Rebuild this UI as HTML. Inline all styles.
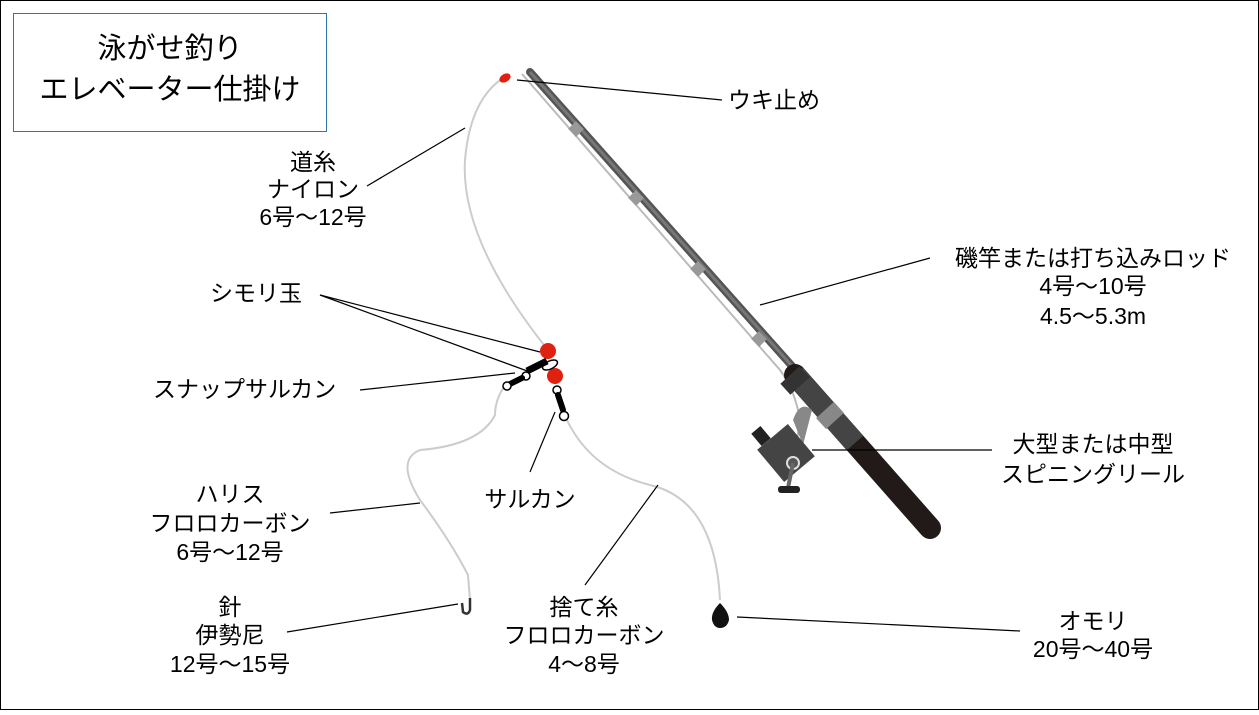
<!DOCTYPE html>
<html><head><meta charset="utf-8"><style>
body{margin:0;background:#fff;}
svg text{font-family:"Liberation Sans","Noto Sans CJK JP",sans-serif;font-size:23px;fill:#000;}
</style></head><body>
<svg width="1259" height="710" viewBox="0 0 1259 710" xmlns="http://www.w3.org/2000/svg">
<rect x="0.5" y="0.5" width="1258" height="709" fill="#fff" stroke="#000"/>
<rect x="13.5" y="13.5" width="313" height="118" fill="#fff" stroke="#2e75b6"/>
<text x="170" y="58" text-anchor="middle" style="font-size:29px">泳がせ釣り</text>
<text x="170" y="99" text-anchor="middle" style="font-size:29px">エレベーター仕掛け</text>
<path d="M522 74 L780 370 Q795 390 800 420 L795 455" stroke="#bbb" stroke-width="2" fill="none"/>
<path d="M503 78 Q470 100 465 160 Q460 240 548 350" stroke="#ccc" stroke-width="2" fill="none"/>
<path d="M505 385 Q495 400 495 415 Q480 445 420 450 Q395 460 420 500 Q450 540 468 575 L470 600" stroke="#ccc" stroke-width="2" fill="none"/>
<path d="M566 418 Q590 470 650 485 Q715 500 720 600" stroke="#ccc" stroke-width="2" fill="none"/>
<line x1="530" y1="72" x2="800" y2="375" stroke="#555" stroke-width="8" stroke-linecap="round"/>
<line x1="530" y1="72" x2="800" y2="375" stroke="#777" stroke-width="3"/>
<g stroke="#999" stroke-width="11">
<line x1="572" y1="125" x2="580" y2="133"/><line x1="632" y1="194" x2="640" y2="202"/><line x1="694" y1="265" x2="702" y2="273"/><line x1="755" y1="335" x2="763" y2="343"/>
</g>
<line x1="795" y1="375" x2="930" y2="528" stroke="#221a18" stroke-width="22" stroke-linecap="round"/>
<line x1="795" y1="375" x2="855" y2="443" stroke="#444" stroke-width="22"/>
<line x1="790" y1="375" x2="800" y2="386" stroke="#333" stroke-width="26"/>
<line x1="825" y1="410" x2="835" y2="421" stroke="#888" stroke-width="24"/>
<path d="M793 420 Q800 400 812 410 L803 445 Z" fill="#888"/>
<rect x="766" y="432" width="40" height="42" fill="#444" transform="rotate(-40 786 453)"/>
<rect x="755" y="428" width="12" height="16" fill="#222" transform="rotate(-40 761 436)"/>
<circle cx="793" cy="463" r="6" fill="#555" stroke="#ddd" stroke-width="2"/>
<line x1="793" y1="463" x2="788" y2="488" stroke="#666" stroke-width="4"/>
<rect x="778" y="486" width="22" height="7" rx="3" fill="#222"/>
<ellipse cx="505" cy="78" rx="6" ry="4" fill="#e02010" transform="rotate(-30 505 78)"/>
<circle cx="548" cy="351" r="8" fill="#e02010"/>
<circle cx="555" cy="376" r="8" fill="#e02010"/>
<path d="M527 371 L547 361" stroke="#000" stroke-width="7"/>
<ellipse cx="550" cy="365" rx="8" ry="4" fill="none" stroke="#000" stroke-width="1.5" transform="rotate(-25 550 365)"/>
<circle cx="526" cy="376" r="4" fill="#fff" stroke="#000" stroke-width="1.5"/>
<path d="M510 384 L522 378" stroke="#000" stroke-width="6" stroke-linecap="round"/>
<circle cx="507" cy="386" r="4" fill="#fff" stroke="#000" stroke-width="1.5"/>
<circle cx="557" cy="390" r="4" fill="#fff" stroke="#000" stroke-width="1.5"/>
<path d="M558 395 L563 410" stroke="#000" stroke-width="6" stroke-linecap="round"/>
<circle cx="564" cy="416" r="4.5" fill="#fff" stroke="#000" stroke-width="1.5"/>
<path d="M470 598 L470 610 Q468 616 463 612 L462 603" stroke="#333" stroke-width="2.5" fill="none"/>
<path d="M720 600 L720 603 Q711 612 712 620 Q714 628 720 628 Q727 628 729 620 Q729 612 720 603 Z" fill="#111"/>
<g stroke="#000" stroke-width="1.2">
<line x1="517" y1="80" x2="722" y2="100"/>
<line x1="465" y1="128" x2="367" y2="186"/>
<line x1="320" y1="295" x2="540" y2="352"/>
<line x1="320" y1="295" x2="530" y2="372"/>
<line x1="360" y1="390" x2="515" y2="373"/>
<line x1="555" y1="412" x2="530" y2="472"/>
<line x1="760" y1="305" x2="930" y2="258"/>
<line x1="812" y1="450" x2="992" y2="450"/>
<line x1="330" y1="513" x2="420" y2="503"/>
<line x1="658" y1="485" x2="585" y2="585"/>
<line x1="287" y1="632" x2="458" y2="604"/>
<line x1="737" y1="617" x2="1020" y2="631"/>
</g>
<text x="728" y="108">ウキ止め</text>
<g text-anchor="middle">
<text x="313" y="170">道糸</text><text x="313" y="197">ナイロン</text><text x="313" y="225">6号～12号</text>
<text x="1093" y="266">磯竿または打ち込みロッド</text><text x="1093" y="294">4号～10号</text><text x="1093" y="324">4.5～5.3m</text>
<text x="1093" y="452">大型または中型</text><text x="1093" y="482">スピニングリール</text>
<text x="230" y="502">ハリス</text><text x="230" y="531">フロロカーボン</text><text x="230" y="560">6号～12号</text>
<text x="530" y="507">サルカン</text>
<text x="230" y="615">針</text><text x="230" y="643">伊勢尼</text><text x="230" y="672">12号～15号</text>
<text x="584" y="615">捨て糸</text><text x="584" y="643">フロロカーボン</text><text x="584" y="672">4～8号</text>
<text x="1093" y="629">オモリ</text><text x="1093" y="657">20号～40号</text>
</g>
<text x="210" y="301">シモリ玉</text>
<text x="153" y="397">スナップサルカン</text>
</svg>
</body></html>
